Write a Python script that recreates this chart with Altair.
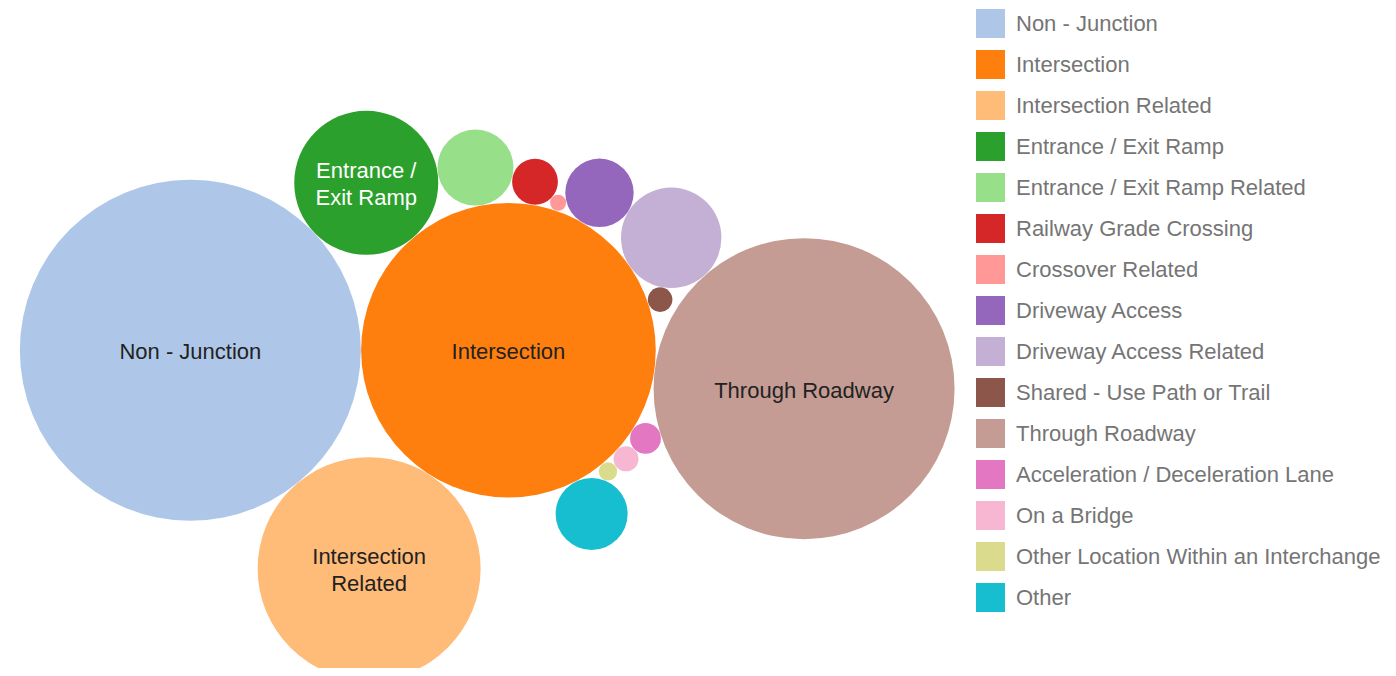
import math
import altair as alt
import pandas as pd

# ---- data ----
categories = [
    "Non - Junction", "Intersection", "Intersection Related", "Entrance / Exit Ramp",
    "Entrance / Exit Ramp Related", "Railway Grade Crossing", "Crossover Related",
    "Driveway Access", "Driveway Access Related", "Shared - Use Path or Trail",
    "Through Roadway", "Acceleration / Deceleration Lane", "On a Bridge",
    "Other Location Within an Interchange", "Other",
]
values = [29070, 21700, 12430, 5184, 1444, 525, 64, 1170, 2520, 151, 22650, 237, 156, 85, 1296]
labels = ["Non - Junction", "Intersection", "Intersection\nRelated", "Entrance /\nExit Ramp",
          "", "", "", "", "", "", "Through Roadway", "", "", "", ""]
colors = ["#aec7e8", "#ff7f0e", "#ffbb78", "#2ca02c", "#98df8a", "#d62728", "#ff9896",
          "#9467bd", "#c5b0d5", "#8c564b", "#c49c94", "#e377c2", "#f7b6d2", "#dbdb8d", "#17becf"]

# ---- layout parameters ----
PX_PER_SQRT = 1.0        # radius (px) per sqrt(value)
PAD = 0.15               # half gap between bubbles
W, H = 1380, 660         # chart area
CENTER = (479.2, 387.5)  # where the bubble cluster's bounding-box centre sits
LINE_H = 27              # label line height
TEXT_DY = 2              # small downward nudge of labels


# ---- sequential front-chain packing around the second bubble ----
def tangent(anchor, prev, r, clockwise=True):
    """Centre of a circle of radius r touching `anchor` and `prev`,
    rotated (screen-)clockwise or counter-clockwise from prev around anchor."""
    ax, ay, ar = anchor
    px, py, pr = prev
    dA = ar + r + 2 * PAD
    dP = pr + r + 2 * PAD
    dAP = math.hypot(px - ax, py - ay)
    cos_t = (dA * dA + dAP * dAP - dP * dP) / (2 * dA * dAP)
    t = math.acos(max(-1.0, min(1.0, cos_t)))
    phi = math.atan2(py - ay, px - ax) + (t if clockwise else -t)
    return (ax + dA * math.cos(phi), ay + dA * math.sin(phi), r)


def overlaps(c1, c2):
    return math.hypot(c1[0] - c2[0], c1[1] - c2[1]) < c1[2] + c2[2] + 2 * PAD - 0.5


def pack(radii):
    placed = [None] * len(radii)
    placed[0] = (0.0, 0.0, radii[0])
    placed[1] = (radii[0] + radii[1] + 2 * PAD, 0.0, radii[1])
    anchor = 1
    placed[2] = tangent(placed[anchor], placed[0], radii[2], clockwise=False)
    placed[3] = tangent(placed[anchor], placed[0], radii[3], clockwise=True)
    prev = 3
    for i in range(4, len(radii)):
        while True:
            cand = tangent(placed[anchor], placed[prev], radii[i], clockwise=True)
            hits = [k for k in range(i) if k not in (anchor, prev) and overlaps(cand, placed[k])]
            if not hits:
                break
            prev = max(hits)
        placed[i] = cand
        prev = i
    return placed


radii = [PX_PER_SQRT * math.sqrt(v) for v in values]
circ = pack(radii)

minx = min(c[0] - c[2] for c in circ)
maxx = max(c[0] + c[2] for c in circ)
miny = min(c[1] - c[2] for c in circ)
maxy = max(c[1] + c[2] for c in circ)
x0 = (minx + maxx) / 2 - CENTER[0]
y0 = (miny + maxy) / 2 - CENTER[1]

df = pd.DataFrame({
    "category": categories,
    "value": values,
    "x": [c[0] for c in circ],
    "y": [c[1] for c in circ],
    "size": [4 * r * r for r in radii],
    "label": labels,
    "lines": [lab.count("\n") + 1 if lab else 0 for lab in labels],
})

xs = alt.X("x:Q", scale=alt.Scale(domain=[x0, x0 + W], nice=False, zero=False), axis=None)
ys = alt.Y("y:Q", scale=alt.Scale(domain=[y0, y0 + H], nice=False, zero=False, reverse=True), axis=None)

bubbles = alt.Chart(df).mark_circle(opacity=1, strokeWidth=0).encode(
    x=xs, y=ys,
    size=alt.Size("size:Q", scale=None, legend=None),
    color=alt.Color(
        "category:N",
        scale=alt.Scale(domain=categories, range=colors),
        sort=categories,
        legend=alt.Legend(
            title=None, orient="none", legendX=968, legendY=1,
            symbolType="square", symbolSize=841, symbolStrokeWidth=0, symbolOpacity=1,
            labelFont="Liberation Sans", labelFontSize=22, labelColor="#757575",
            labelOffset=11, rowPadding=12, padding=0, labelLimit=600,
        ),
    ),
    tooltip=["category:N", "value:Q"],
)

text_color = alt.condition(alt.datum.category == "Entrance / Exit Ramp",
                           alt.value("#ffffff"), alt.value("#222222"))
text_props = dict(font="Liberation Sans", fontSize=22, lineBreak="\n", lineHeight=LINE_H,
                  align="center", baseline="middle")

single = alt.Chart(df).transform_filter(alt.datum.lines == 1).mark_text(
    dy=TEXT_DY, **text_props
).encode(
    x=xs, y=ys, text="label:N", color=text_color,
)
double = alt.Chart(df).transform_filter(alt.datum.lines == 2).mark_text(
    dy=TEXT_DY - LINE_H / 2, **text_props
).encode(
    x=xs, y=ys, text="label:N", color=text_color,
)

chart = alt.layer(bubbles, single, double).properties(
    width=W, height=H, padding=0, autosize=alt.AutoSizeParams(type="none"),
).configure_view(stroke=None)

chart.save("out.html", embed_options={"renderer": "svg", "actions": False})
